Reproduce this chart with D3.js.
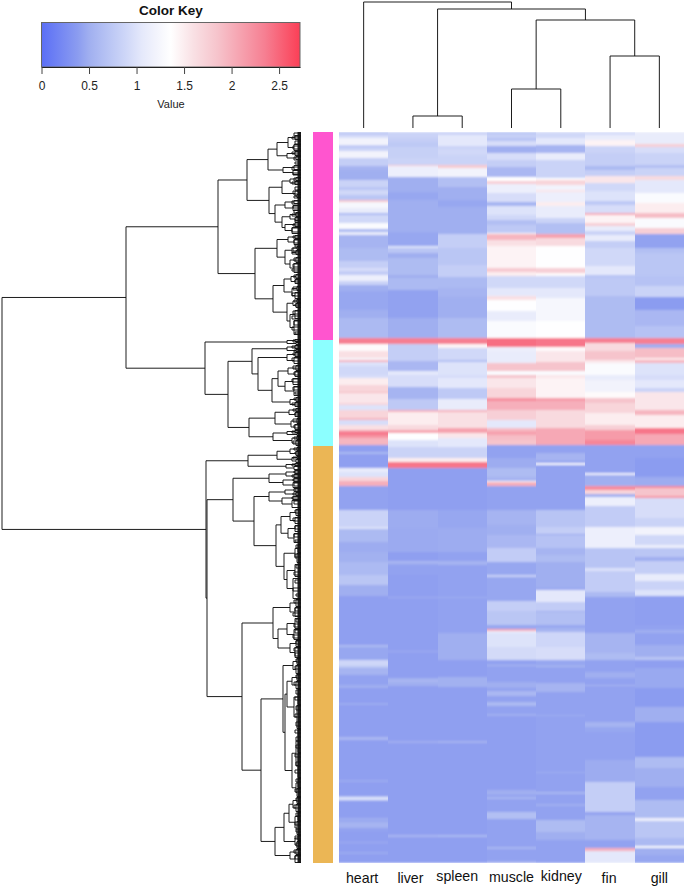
<!DOCTYPE html>
<html>
<head>
<meta charset="utf-8">
<script src="https://cdnjs.cloudflare.com/ajax/libs/d3/7.8.5/d3.min.js"></script>
<style>
    body { margin: 0; background: #fff; }
    text { font-family: "Liberation Sans", Arial, sans-serif; }
</style>
</head>
<body>
<div id="chart"></div>
<script>
// tissues, left to right
const tissues = ["heart", "liver", "spleen", "muscle", "kidney", "fin", "gill"]

const keyTicks = [0, 0.5, 1, 1.5, 2, 2.5]
const keyMax = 2.72
const rowCount = 731

// colour key stops
const keyStops = [0, .38, .5, .7, .9, 1.05, 1.2, 1.36, 1.6, 1.85, 2.35, 2.72]
const keyColors = ["#5b6ff6", "#8b9cf0", "#a0aff0", "#b8c4f4", "#d0d8f8", "#e4e8fb", "#f2f3fc", "#ffffff", "#f9e0e4", "#f6c4cc", "#f67f92", "#fb3f56"]

// row groups as [rows in group, colour]
const groupRows = [208, 106, 417]
const groupColors = ["#ff55cf", "#8cffff", "#ebb655"]

// heat values, as [last row of run, value]
const heartRuns = [[3,.75],[6,.95],[13,1.2],[14,.95],[15,.55],[19,.85],[26,1.2],[34,.8],[38,.55],[48,.5],[55,.85],[58,.72],[63,.9],[68,.72],[70,1.85],[76,1.25],[81,1.1],[83,.6],[91,.9],[97,1.3],[100,.6],[103,1.1],[116,.55],[129,.62],[136,.8],[139,.95],[143,.78],[149,1.15],[153,.85],[159,.5],[178,.45],[186,.5],[206,.6],[212,2.35],[219,1.4],[226,1.6],[228,1.25],[230,2],[234,1],[243,.9],
    [246,.95],[253,1.5],[260,1.7],[261,1.95],[271,1.55],[273,1.7],[278,1],[286,1.7],[288,1.95],[293,.95],[298,1.6],[300,2.1],[303,2.4],[306,2.2],[313,1.95],[320,.4],[322,.6],[336,.4],[340,1.1],[345,1],[349,1.7],[354,2],[378,.42],[395,.85],[397,1],[410,.6],[420,.48],[430,.52],[443,.6],[453,.72],[464,.5],
    [513,.4],[515,.62],[528,.45],[534,.88],[536,.72],[543,.55],[553,.42],[556,.5],[571,.4],[573,.48],[605,.4],[608,.58],[648,.4],[650,.47],[664,.4],[665,.6],[668,.98],[669,.6],[686,.4],[688,.5],[690,.45],[696,.55],[700,.42],[710,.4],[711,.5],[720,.4],[722,.47],[731,.4]]

const liverRuns = [[6,.85],[10,.8],[15,.75],[26,.82],[33,.85],[34,1.8],[45,1.15],[60,.5],[68,.45],[75,.5],[100,.5],[114,.45],[116,1],[121,.72],[126,.5],[143,.62],[146,.5],[158,.6],[186,.42],[206,.5],[212,2.35],[215,.8],[229,.8],[239,.58],[243,1.05],
    [255,.95],[267,.55],[278,.75],[280,2],[293,1.5],[298,1.65],[301,2.1],[308,1.35],[315,1],[326,.85],[330,1.5],[336,2.4],[378,.4],[396,.48],[420,.47],[429,.4],[431,.58],[433,.48],[443,.42],[465,.4],[466,.5],
    [519,.4],[520,.5],[546,.4],[548,.52],[550,.58],[554,.5],[609,.4],[611,.5],[703,.4],[705,.58],[731,.4]]

const spleenRuns = [[3,.85],[14,1.05],[17,.85],[23,.9],[33,.85],[36,1.8],[45,1.2],[55,.65],[68,.5],[75,.45],[102,.5],[116,.8],[133,.72],[145,.8],[156,.6],[165,.55],[186,.5],[206,.62],[212,2.35],[216,1.45],[228,.9],[230,.65],[243,1],
    [246,.95],[256,1.05],[267,.75],[278,1.1],[280,2],[296,1.6],[301,2.1],[306,1.55],[315,1.05],[326,.85],[330,1.5],[336,2.4],[378,.4],[396,.45],[420,.48],[429,.42],[433,.55],[465,.42],[466,.5],
    [501,.42],[528,.5],[545,.4],[555,.52],[609,.4],[611,.55],[703,.4],[705,.6],[731,.4]]

const muscleRuns = [[2,.7],[6,.82],[9,.7],[14,.95],[21,.5],[28,.95],[35,.8],[45,.58],[49,1.35],[52,1.75],[61,1.15],[70,.95],[74,.55],[83,1],[88,.9],[93,.65],[101,.75],[102,1.4],[108,1.95],[114,1.6],[136,1.45],[140,1.8],[144,1.5],[156,.9],[164,1.05],[168,1.6],[179,1.35],[189,1.1],[206,1.3],[215,2.45],[219,1.15],[231,1.1],[239,1.85],[243,1.3],
    [246,1.85],[256,1.55],[266,1.7],[269,2.25],[278,2],[288,1.75],[296,1.05],[299,1.9],[303,2.1],[308,1.9],[313,1.85],[326,.42],[336,.48],[345,.62],[349,.55],[350,1.3],[354,2],[378,.42],[393,.55],[403,.5],[416,.58],[430,.78],[443,.45],[445,.85],[469,.45],[479,.8],[493,.72],
    [497,.45],[499,2.05],[501,1.1],[515,1],[528,.92],[533,.42],[534,.6],[550,.42],[556,.5],[559,.42],[564,.58],[570,.42],[574,.6],[582,.42],[584,.5],[658,.4],[663,.5],[665,.42],[667,.58],[680,.42],[687,.65],[715,.42],[717,.58],[729,.42],[731,.5]]

const kidneyRuns = [[6,.9],[13,1.05],[21,.55],[28,1.1],[46,.85],[48,1.35],[53,1.7],[58,1.2],[60,1.55],[70,1.15],[74,1.5],[86,1.1],[91,.85],[102,.65],[106,2.1],[114,1.65],[136,1.35],[141,1.75],[144,1.4],[156,.9],[166,1.05],[189,1.25],[206,1.35],[215,2.4],[219,1.4],[230,1.55],[239,1.85],[243,1.3],
    [246,1.55],[266,1.45],[269,2.15],[278,2],[296,1.65],[313,2.05],[321,.42],[329,.55],[331,.42],[333,1.25],[378,.42],[395,.7],[402,.8],[403,.45],[416,.68],[423,.55],[430,.62],[443,.5],[456,.5],[458,.45],[470,1.05],[479,.78],[480,.5],[493,.65],
    [496,.45],[500,.55],[515,.88],[528,.95],[534,.45],[535,.62],[551,.42],[560,.55],[583,.42],[584,.5],[640,.42],[641,.5],[660,.42],[662,.58],[672,.42],[674,.5],[688,.42],[700,.62],[708,.5],[731,.42]]

const finRuns = [[3,.95],[8,1.1],[14,1.45],[21,.85],[34,.8],[38,.6],[44,.8],[51,1.55],[59,.9],[69,1],[73,.75],[81,.95],[83,2.05],[91,1.45],[94,1.75],[99,1.1],[103,.85],[109,1.1],[116,.8],[134,.9],[143,1.05],[146,.7],[164,.75],[206,.62],[211,2.35],[219,1.65],[228,1.85],[231,1.55],[243,1.3],
    [248,1.1],[260,1.2],[266,1.4],[271,1.85],[281,1.7],[293,1.5],[298,1.75],[308,2.15],[313,2.3],[341,.42],[343,1.15],[354,.5],[358,2.25],[362,1.7],[365,.5],[374,1.15],[395,.78],[416,1.15],[436,.7],[439,.98],[460,.78],[465,.6],[493,.42],
    [501,.42],[521,.55],[528,.62],[540,.42],[546,.5],[553,.42],[554,.58],[590,.42],[595,.55],[600,.45],[628,.42],[650,.48],[680,.8],[683,.42],[708,.55],[716,.42],[719,2],[731,1.05]]

const gillRuns = [[12,1.1],[15,1.75],[21,.95],[33,.85],[36,.65],[44,.85],[48,1.65],[61,1.05],[71,1.3],[81,1.5],[86,1.9],[96,1.3],[102,1.75],[116,.42],[121,.65],[144,.72],[154,.68],[165,.85],[178,.38],[194,.58],[206,.68],[212,2.35],[216,.5],[226,1.9],[228,1.5],[231,1.95],[243,1],
    [248,.95],[256,1.05],[260,.85],[278,1.55],[283,1.95],[296,1.5],[302,2.4],[313,2.05],[326,.42],[345,.38],[354,.48],[356,2.3],[364,1.85],[366,2.2],[386,.95],[395,.85],[403,1.2],[413,.9],[416,1.15],[425,.72],[429,.5],[442,.8],[449,1.1],[458,.85],[464,1],[493,.4],
    [498,.42],[501,.5],[513,.42],[525,.5],[528,.72],[536,.4],[556,.46],[575,.38],[590,.5],[625,.38],[636,.62],[655,.5],[668,.42],[686,.62],[689,1.15],[706,.72],[714,.6],[716,1.3],[723,.5],[731,.45]]

const heatRuns = [heartRuns, liverRuns, spleenRuns, muscleRuns, kidneyRuns, finRuns, gillRuns]

// column dendrogram: [height, left, right], a number is a tissue index
const columnTree = [126, 0, [119, [12, 1, 2], [108, [39, 3, 4], [72, 5, 6]]]]

// row dendrogram: [height, upper, lower], a number is a row
const rowTreeA = [83,
    [54,
        [33,
            [24, [13,[6,3,7],[7,12,18]], [14,[6,19,23],[5,24,27]]],
            [18,[7,33,37],[8,38,42]]],
        [32,
            [19, [11,[5,45,48],[6,49,52]], [6,[3,57,60],[4,62,65]]],
            [26, [16,[7,68,71],[8,73,78]],
                [19, [11,[5,80,84],[6,85,88]], [16,[6,90,94],[9,95,101]]]]]],
    [46,
        [24, [13,[6,103,106],[7,107,112]],
            [16, [9,[4,114,117],[5,118,122]], [11,[5,125,130],[7,131,140]]]],
        [28,
            [17, [10,[5,142,146],[6,147,151]], [9,[4,154,158],[6,160,166]]],
            [14, [8,[4,167,170],[5,171,175]], [11,[6,178,186],[7,188,202]]]]]]

const rowTreeB = [96,
    [14,[6,207,209],[5,210,212]],
    [73,
        [49,
            [14,[6,213,216],[5,217,219]],
            [43,
                [14,[6,220,224],[7,225,231]],
                [29,
                    [23, [13,[5,233,238],[6,239,244]], [16,[8,246,252],[7,254,263]]],
                    [11,[5,265,269],[6,270,274]]]]],
        [52,
            [26, [12,[5,276,279],[6,280,284]], [10,[4,286,291],[6,292,297]]],
            [28, [14,[6,298,300],[4,301,303]], [9,[4,304,307],[5,308,313]]]]]]

const rowTreeC = [95,
    [53,
        [24, [11,[4,315,318],[5,319,323]], [9,[4,324,326],[5,327,330]]],
        [15,[6,331,333],[7,334,337]]],
    [94,
        [68,
            [32, [15,[6,338,341],[7,342,345]], [18,[7,346,349],[8,350,355]]],
            [47,
                [32, [16,[7,356,359],[5,360,363]], [19,[8,364,367],[9,368,375]]],
                [25,
                    [20, [11,[5,377,383],[6,385,391]], [13,[6,393,399],[7,401,410]]],
                    [17, [6,[3,412,420],[4,421,430]], [14,[6,432,444],[8,446,466]]]]]],
        [59,
            [28, [11,[5,467,474],[6,475,484]],
                [23, [14,[6,486,496],[7,497,507]], [11,[5,508,514],[6,515,525]]]],
            [40,
                [18, [8,[4,526,532],[5,533,541]],
                    [16,
                        [14, [9,[4,542,548],[5,549,556]], [7,[3,557,572],[4,573,596]]],
                        [9, [5,[3,597,620],[3,621,645]], [5,[3,646,655],[4,656,664]]]]],
                [26,
                    [17,
                        [12, [8,[4,665,671],[5,672,679]], [6,[3,680,688],[4,689,702]]],
                        [6,[3,703,708],[4,709,716]]],
                    [11,[5,717,722],[6,723,730]]]]]]]

const rowTree = [299, [175, rowTreeA, rowTreeB], rowTreeC]

// small brackets next to the leaves, too fine to follow: [first row, rows spanned, height]
const rowTwigs = [[1,3,7],[5,2,9],[9,3,6],[14,3,8],[20,2,9],[25,3,7],[30,2,6],[35,3,9],[41,2,8],[46,3,7],[50,2,9],[55,3,6],[59,3,8],[64,2,7],[69,3,9],[74,2,8],[78,3,7],[82,2,9],[87,3,6],[92,2,8],[96,4,9],[104,2,8],[108,3,7],[113,2,6],[116,3,8],[120,2,9],[126,3,7],[132,3,8],[137,2,9],[143,3,7],[148,2,6],[155,3,8],[161,3,9],[168,2,7],[172,2,6],[179,3,8],[184,3,9],[189,4,7],[195,3,9],[200,2,6],
    [208,2,8],[214,2,9],[218,2,7],[221,2,8],[226,3,9],[234,3,8],[240,3,7],[247,3,9],[255,3,8],[260,2,6],[266,2,7],[271,2,9],[277,2,8],[281,2,6],[287,3,8],[293,3,7],[299,2,9],[305,2,7],[309,3,8],
    [316,2,7],[320,2,6],[325,2,8],[332,2,9],[339,2,7],[343,2,9],[347,2,8],[351,3,7],[357,2,6],[361,2,8],[365,2,9],[369,3,7],[378,3,6],[386,3,8],[394,3,6],[402,3,7],[408,2,6],[413,3,5],[422,3,6],[433,3,5],[440,3,7],[448,3,6],[456,3,8],[462,2,5],[468,3,7],[476,3,6],[481,3,8],[487,3,5],[492,3,7],[498,3,6],[503,3,8],[509,3,5],[516,3,7],[521,3,6],
    [527,3,5],[534,3,6],[543,3,5],[550,3,7],[558,4,5],[565,3,6],[574,4,5],[582,3,6],[590,4,5],[598,3,6],[605,4,5],[613,3,5],[622,3,6],[630,4,5],[638,3,6],[647,3,5],[657,3,6],[666,3,5],[673,3,7],[681,3,5],[690,3,6],[697,3,5],[704,3,6],[711,3,5],[718,3,7],[724,3,6]]

function plotChart() {
    const width = 685
    const height = 886

    const heat = { left: 339, right: 684, top: 132, bottom: 863 }

    const wrapper = d3.select("#chart").append("svg")
        .attr("width", width)
        .attr("height", height)

    // Scales
    const colorScale = d3.scaleLinear()
        .domain(keyStops)
        .range(keyColors)

    const xScale = d3.scaleBand()
        .domain(d3.range(tissues.length))
        .range([heat.left, heat.right])

    const yScale = d3.scaleLinear()
        .domain([0, rowCount])
        .range([heat.top, heat.bottom])

    const rowDepth = d3.scaleLinear()
        .domain([0, 299])
        .range([301, 2])

    const columnDepth = d3.scaleLinear()
        .domain([0, 126])
        .range([128, 2])

    const defs = wrapper.append("defs")

    // the original heatmap is a resampled image, rows bleed into each other
    defs.append("filter")
        .attr("id", "row-soften")
        .attr("filterUnits", "userSpaceOnUse")
        .attr("x", heat.left)
        .attr("y", heat.top)
        .attr("width", heat.right - heat.left)
        .attr("height", heat.bottom - heat.top)
        .append("feGaussianBlur")
        .attr("stdDeviation", "0 0.8")

    // Heatmap
    const columns = wrapper.append("g")
        .attr("shape-rendering", "crispEdges")
        .attr("filter", "url(#row-soften)")
        .selectAll("g")
        .data(heatRuns)
        .enter().append("g")
        .attr("transform", (d, i) => `translate(${xScale(i)}, 0)`)

    columns.selectAll("rect")
        .data(runs => runs.map((d, i) => ({
            start: i ? runs[i - 1][0] : 0,
            end: d[0],
            value: d[1]
        })))
        .enter().append("rect")
        .attr("y", d => yScale(d.start))
        .attr("width", xScale.bandwidth())
        .attr("height", d => yScale(d.end) - yScale(d.start))
        .attr("fill", d => colorScale(d.value))

    // Row side colours
    const groupStarts = d3.cumsum([0].concat(groupRows))
    wrapper.append("g")
        .selectAll("rect")
        .data(groupRows)
        .enter().append("rect")
        .attr("x", 313)
        .attr("width", 20)
        .attr("y", (d, i) => yScale(groupStarts[i]))
        .attr("height", d => yScale(d) - yScale(0))
        .attr("fill", (d, i) => groupColors[i])

    // Dendrograms
    const treeLine = wrapper.append("path")
        .attr("fill", "none")
        .attr("stroke", "#111")
        .attr("stroke-width", 0.95)

    let treePath = ""

    function drawRowNode(node) {
        if (typeof node === "number") return { pos: yScale(node + 0.5), depth: 0 }
        const a = drawRowNode(node[1])
        const b = drawRowNode(node[2])
        const x = rowDepth(node[0])
        treePath += `M${rowDepth(a.depth)},${a.pos}H${x}V${b.pos}H${rowDepth(b.depth)}`
        return { pos: (a.pos + b.pos) / 2, depth: node[0] }
    }

    function drawColumnNode(node) {
        if (typeof node === "number") return { pos: xScale(node) + xScale.bandwidth() / 2, depth: 0 }
        const a = drawColumnNode(node[1])
        const b = drawColumnNode(node[2])
        const y = columnDepth(node[0])
        treePath += `M${a.pos},${columnDepth(a.depth)}V${y}H${b.pos}V${columnDepth(b.depth)}`
        return { pos: (a.pos + b.pos) / 2, depth: node[0] }
    }

    drawRowNode(rowTree)
    drawColumnNode(columnTree)

    rowTwigs.forEach(([row, span, depth]) => {
        const x = rowDepth(depth)
        treePath += `M${rowDepth(0)},${yScale(row)}H${x}V${yScale(row + span)}H${rowDepth(0)}`
    })

    // leaf ends make the solid band next to the side colours
    d3.range(rowCount).forEach(r => {
        treePath += `M${rowDepth(3.5)},${yScale(r + 0.5)}H${rowDepth(0)}`
    })
    treeLine.attr("d", treePath)

    // Column labels, R placed them a little off the cell centres
    const labelNudge = [-1.5, -2.5, -5, 0, 0.5, -1, 0]
    const labelBaseline = [883, 883, 881, 882, 881, 883, 883]
    wrapper.append("g")
        .selectAll("text")
        .data(tissues)
        .enter().append("text")
        .attr("x", (d, i) => xScale(i) + xScale.bandwidth() / 2 + labelNudge[i])
        .attr("y", (d, i) => labelBaseline[i])
        .attr("text-anchor", "middle")
        .attr("font-size", "14.2px")
        .attr("fill", "#111")
        .text(d => d)

    // Colour key
    const keyScale = d3.scaleLinear()
        .domain([0, keyMax])
        .range([41.5, 300])

    const gradient = defs.append("linearGradient")
        .attr("id", "key-gradient")

    keyStops.forEach((d, i) => {
        gradient.append("stop")
            .attr("offset", d / keyMax)
            .attr("stop-color", keyColors[i])
    })

    wrapper.append("rect")
        .attr("x", keyScale(0))
        .attr("y", 22.5)
        .attr("width", keyScale(keyMax) - keyScale(0))
        .attr("height", 44.5)
        .attr("fill", "url(#key-gradient)")
        .attr("stroke", "#666")
        .attr("stroke-width", 1)

    const keyAxis = wrapper.append("g")
        .attr("transform", "translate(0, 67)")
        .call(d3.axisBottom(keyScale)
            .tickValues(keyTicks)
            .tickFormat(d3.format("~g"))
            .tickSize(7)
            .tickPadding(7)
            .tickSizeOuter(0))

    keyAxis.select(".domain").attr("stroke", "#222")
    keyAxis.selectAll(".tick line").attr("stroke", "#444")
    keyAxis.selectAll(".tick text")
        .attr("font-family", "Liberation Sans")
        .attr("font-size", "12px")
        .attr("fill", "#222")

    wrapper.append("text")
        .attr("x", 171)
        .attr("y", 15)
        .attr("text-anchor", "middle")
        .attr("font-size", "13.5px")
        .attr("font-weight", "700")
        .attr("fill", "#111")
        .text("Color Key")

    wrapper.append("text")
        .attr("x", 171)
        .attr("y", 108)
        .attr("text-anchor", "middle")
        .attr("font-size", "11px")
        .attr("fill", "#222")
        .text("Value")
}

plotChart()
</script>
</body>
</html>
